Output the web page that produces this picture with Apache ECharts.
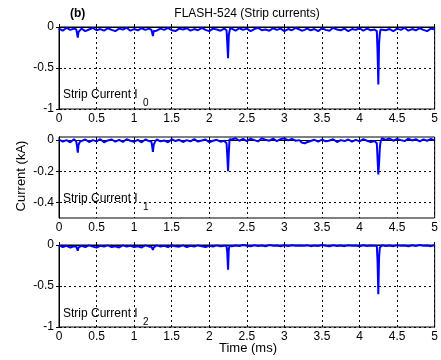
<!DOCTYPE html>
<html><head><meta charset="utf-8">
<script src="https://cdn.jsdelivr.net/npm/echarts@6/dist/echarts.min.js"></script>
<style>html,body{margin:0;padding:0;background:#fff}#c{width:441px;height:360px}</style>
</head><body><div id="c"></div>
<script>
const time = [
 0,0.05,0.1,0.15,0.2,
 0.23,0.24,0.25,0.26,0.28,
 0.3,0.35,0.4,0.45,0.5,0.55,0.6,0.65,0.7,0.75,0.8,0.85,0.9,0.95,1,1.05,1.1,1.15,1.2,
 1.23,1.24,1.25,1.26,1.28,
 1.3,1.35,1.4,1.45,1.5,1.55,1.6,1.65,1.7,1.75,1.8,1.85,1.9,1.95,2,2.05,2.1,2.15,2.2,
 2.23,2.24,2.25,2.26,2.27,2.28,
 2.3,2.35,2.4,2.45,2.5,2.55,2.6,2.65,2.7,2.75,2.8,2.85,2.9,2.95,3,3.05,3.1,3.15,3.2,
 3.23,3.25,3.27,
 3.3,3.35,3.4,3.45,3.5,3.55,3.6,3.65,3.7,3.75,3.8,3.85,3.9,3.95,4,4.05,4.1,4.15,4.2,
 4.23,4.24,4.25,4.26,4.27,4.28,
 4.3,4.35,4.4,4.45,4.5,4.55,4.6,4.65,4.7,4.75,4.8,4.85,4.9,4.95,5
];
const stripI0 = [
 -0.02,-0.045,-0.01,-0.035,-0.02,
 -0.03,-0.08,-0.13,-0.06,-0.045,
 -0.02,-0.05,-0.03,-0.01,-0.04,-0.025,-0.045,-0.015,-0.035,-0.05,-0.02,-0.03,-0.01,-0.045,-0.025,-0.04,-0.015,-0.035,-0.02,
 -0.035,-0.07,-0.11,-0.05,-0.03,
 -0.045,-0.02,-0.035,-0.01,-0.04,-0.05,-0.02,-0.03,-0.015,-0.045,-0.025,-0.04,-0.01,-0.035,-0.05,-0.02,-0.03,-0.045,-0.02,
 -0.04,-0.2,-0.38,-0.1,-0.05,-0.01,
 -0.03,-0.045,-0.015,-0.035,-0.02,-0.05,-0.025,-0.01,-0.04,-0.03,-0.045,-0.015,-0.035,-0.02,-0.05,-0.025,-0.04,-0.01,-0.03,
 -0.045,-0.06,-0.035,
 -0.02,-0.04,-0.025,-0.05,-0.015,-0.035,-0.045,-0.01,-0.03,-0.04,-0.02,-0.05,-0.025,-0.035,-0.015,-0.045,-0.02,-0.04,-0.03,
 -0.05,-0.3,-0.7,-0.2,-0.08,-0.03,
 -0.015,-0.04,-0.025,-0.05,-0.02,-0.035,-0.01,-0.045,-0.025,-0.04,-0.015,-0.035,-0.05,-0.02,-0.03
];
const stripI1 = [
 0.004,-0.01,0,-0.014,0.006,
 -0.01,-0.04,-0.08,-0.03,-0.01,
 -0.006,0.004,-0.012,0,-0.008,0.006,-0.014,-0.002,0.004,-0.01,0.002,-0.012,0.006,-0.004,-0.01,0.002,-0.014,0.004,-0.006,
 -0.01,-0.04,-0.075,-0.03,-0.01,
 0.004,-0.008,-0.002,-0.014,0.006,-0.006,0.002,-0.012,0,-0.008,0.006,-0.01,-0.002,0.004,-0.014,-0.004,0.002,-0.01,-0.004,
 -0.02,-0.1,-0.2,-0.08,0.005,0.012,
 0.004,0.012,-0.004,0.008,-0.006,0.01,0,-0.008,0.012,0.002,-0.004,0.01,-0.006,0.006,0.012,-0.002,0.008,-0.004,0,
 -0.015,-0.025,-0.02,
 -0.014,-0.006,0.002,-0.01,0.004,-0.008,-0.002,0.006,-0.012,0,-0.006,0.004,-0.01,0.002,-0.008,0.006,-0.004,-0.012,-0.006,
 -0.02,-0.12,-0.22,-0.15,-0.05,-0.01,
 0.012,0.002,0.01,-0.004,0.008,0,-0.006,0.01,-0.002,0.006,-0.008,0.004,-0.004,0.008,-0.002
];
const stripI2 = [
 -0.005,-0.025,-0.01,-0.03,-0.015,
 -0.02,-0.04,-0.07,-0.03,-0.02,
 -0.01,-0.025,-0.005,-0.02,-0.03,-0.01,-0.02,-0.005,-0.025,-0.015,-0.03,-0.005,-0.02,-0.01,-0.025,-0.015,-0.03,-0.005,-0.02,
 -0.02,-0.04,-0.06,-0.03,-0.02,
 -0.005,-0.02,-0.01,-0.025,-0.005,-0.015,-0.02,-0.005,-0.025,-0.01,-0.02,-0.005,-0.015,-0.025,-0.01,-0.02,-0.005,-0.015,-0.01,
 -0.01,-0.1,-0.3,-0.05,-0.01,-0.005,
 -0.015,-0.005,-0.012,0,-0.01,-0.015,-0.004,-0.012,-0.006,-0.015,0,-0.01,-0.006,-0.015,-0.004,-0.012,-0.002,-0.01,-0.006,
 -0.01,-0.02,-0.01,
 -0.004,-0.014,-0.006,-0.012,0,-0.01,-0.015,-0.004,-0.012,-0.006,-0.014,-0.002,-0.01,-0.006,-0.015,-0.004,-0.012,-0.006,-0.01,
 -0.01,-0.2,-0.6,-0.15,-0.03,-0.01,
 -0.004,-0.012,-0.006,-0.014,-0.002,-0.01,-0.006,-0.015,-0.004,-0.012,0,-0.01,-0.006,-0.014,-0.004
];
const yTicks0 = [0, -0.5, -1];
const yTicks1 = [0, -0.2, -0.4];
const yTicks2 = [0, -0.5, -1];
const yRanges = [[-1, 0], [-0.5, 0.02], [-1, 0]];
const panelLabels = ['Strip Current I', 'Strip Current I', 'Strip Current I'];
const panelSubs = ['0', '1', '2'];
const titleText = 'FLASH-524 (Strip currents)';
const panelTag = '(b)';
const yName = 'Current (kA)';
const xName = 'Time (ms)';

const FONT = '"Liberation Sans", Arial, sans-serif';
const grids = [
  {left: 59, right: 4, top: 27, height: 82},
  {left: 59, right: 4, top: 137, height: 81},
  {left: 59, right: 4, top: 245, height: 82}
];
const seriesVals = [stripI0, stripI1, stripI2];
const yTicks = [yTicks0, yTicks1, yTicks2];

const xAxes = [], yAxes = [], series = [];
grids.forEach((g, i) => {
  const base = {gridIndex: i, type: 'value', min: 0, max: 5, interval: 0.5};
  xAxes.push(Object.assign({}, base, {
    position: 'bottom',
    axisLine: {show: true, lineStyle: {color: '#000', width: 1}},
    axisTick: {show: true, inside: true, length: 3, lineStyle: {color: '#000'}},
    axisLabel: {show: true, color: '#000', fontSize: 12, fontFamily: FONT, margin: 4,
      formatter: v => String(+v.toFixed(2))},
    splitLine: {show: true, lineStyle: {color: '#000', type: [2, 3], width: 1}}
  }));
  xAxes.push(Object.assign({}, base, {
    position: 'top',
    axisLine: {show: true, lineStyle: {color: '#000', width: 1}},
    axisTick: {show: true, inside: true, length: 3, lineStyle: {color: '#000'}},
    axisLabel: {show: false}, splitLine: {show: false}
  }));
  const yb = {gridIndex: i, type: 'value', min: yRanges[i][0], max: yRanges[i][1]};
  yAxes.push(Object.assign({}, yb, {
    position: 'left',
    axisLine: {show: true, lineStyle: {color: '#000', width: 1}},
    axisTick: {show: true, inside: true, length: 3, lineStyle: {color: '#000'}, customValues: yTicks[i]},
    axisLabel: {show: true, color: '#000', fontSize: 12, fontFamily: FONT, margin: 5,
      customValues: yTicks[i], formatter: v => String(+(+v).toFixed(2))},
    splitLine: {show: true, lineStyle: {color: '#000', type: [2, 3], width: 1}}
  }));
  yAxes.push(Object.assign({}, yb, {
    position: 'right',
    axisLine: {show: true, lineStyle: {color: '#000', width: 1}},
    axisTick: {show: true, inside: true, length: 3, lineStyle: {color: '#000'}, customValues: yTicks[i]},
    axisLabel: {show: false, customValues: yTicks[i]}, splitLine: {show: false}
  }));
  series.push({
    type: 'line', xAxisIndex: i * 2, yAxisIndex: i * 2,
    data: time.map((t, k) => [t, seriesVals[i][k]]),
    showSymbol: false, symbol: 'none', clip: true,
    lineStyle: {color: '#0000ff', width: 2}, itemStyle: {color: '#0000ff'},
    z: 3
  });
});

const labelPos = [{x: 63, y: 95}, {x: 63, y: 199}, {x: 63, y: 314}];
const graphic = [
  {type: 'text', style: {text: titleText, x: 247, y: 14, font: '12px ' + FONT, fill: '#000', align: 'center', verticalAlign: 'middle'}, z: 10},
  {type: 'text', style: {text: panelTag, x: 70, y: 8, font: 'bold 12px ' + FONT, fill: '#000'}, z: 10},
  {type: 'text', style: {text: yName, x: 0, y: 0, font: '13px ' + FONT, fill: '#000', align: 'center', verticalAlign: 'middle'},
    x: 21, y: 176, rotation: Math.PI / 2, z: 10},
  {type: 'text', style: {text: xName, x: 248, y: 348, font: '13px ' + FONT, fill: '#000', align: 'center', verticalAlign: 'middle'}, z: 10}
];
labelPos.forEach((p, i) => {
  graphic.push({type: 'text', style: {text: panelLabels[i], x: p.x, y: p.y, font: '12px ' + FONT, fill: '#000', verticalAlign: 'middle'}, z: 10});
  graphic.push({type: 'text', style: {text: panelSubs[i], x: p.x + 80, y: p.y + 8, font: '10px ' + FONT, fill: '#000', verticalAlign: 'middle'}, z: 10});
});

const chart = echarts.init(document.getElementById('c'), null, {renderer: 'canvas'});
chart.setOption({
  animation: false,
  backgroundColor: '#fff',
  grid: grids.map(g => Object.assign({show: true, borderColor: '#000', borderWidth: 1, backgroundColor: '#fff'}, g)),
  xAxis: xAxes, yAxis: yAxes, series: series, graphic: graphic
});
</script></body></html>
